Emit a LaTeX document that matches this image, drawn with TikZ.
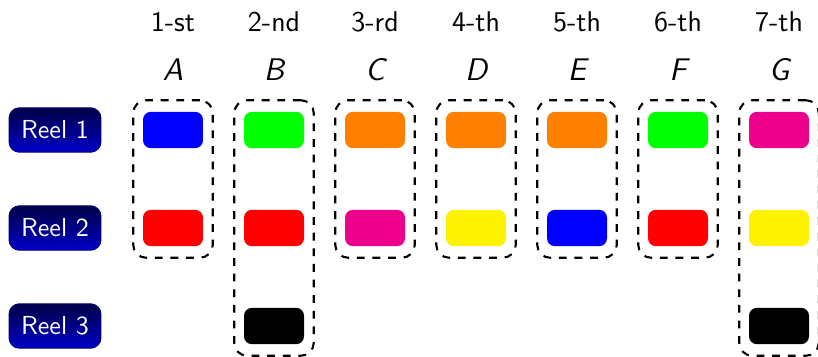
\documentclass[tikz,border=0pt]{standalone}
\usepackage{xcolor}
\usepackage{tikz}
\usetikzlibrary{positioning, fit, calc}

\definecolor{reelTop}{RGB}{0,0,70}
\definecolor{reelBot}{RGB}{0,0,200}
\definecolor{reelEdge}{RGB}{0,0,120}
\definecolor{cBlue}{RGB}{0,0,255}
\definecolor{cRed}{RGB}{255,0,0}
\definecolor{cGreen}{RGB}{0,255,0}
\definecolor{cOrange}{RGB}{255,128,0}
\definecolor{cMagenta}{RGB}{236,0,140}
\definecolor{cYellow}{RGB}{255,242,0}

\tikzset{
  reel/.style={rectangle, rounded corners=4pt, draw=reelEdge, top color=reelTop, bottom color=reelBot,
    text=white, font=\sffamily, minimum width=1.24cm, minimum height=0.6cm},
  chip/.style={rectangle, rounded corners=3pt, minimum width=0.81cm, minimum height=0.49cm},
  group/.style={draw, thick, dashed, rounded corners=5pt, inner xsep=0.125cm, inner ysep=0.15cm},
  head/.style={font=\sffamily\fontsize{11}{13}\selectfont},
  letter/.style={font=\sffamily\itshape\large},
}

\begin{document}
\begin{tikzpicture}[x=0.0135cm, y=-0.0135cm]
    \useasboundingbox (0,0) rectangle (818,356);

    % reels
    \node (r1) [reel] at (55,130) {Reel 1};
    \node (r2) [reel] at (55,228) {Reel 2};
    \node (r3) [reel] at (55,326) {Reel 3};

    % column heads
    \node (h1) [head] at (173,22) {1-st};
    \node (h2) [head] at (274,22) {2-nd};
    \node (h3) [head] at (375,22) {3-rd};
    \node (h4) [head] at (476,22) {4-th};
    \node (h5) [head] at (577,22) {5-th};
    \node (h6) [head] at (678,22) {6-th};
    \node (h7) [head] at (779,22) {7-th};
    \node (lA) [letter] at (173,70) {A};
    \node (lB) [letter] at (274,70) {B};
    \node (lC) [letter] at (375,70) {C};
    \node (lD) [letter] at (476,70) {D};
    \node (lE) [letter] at (577,70) {E};
    \node (lF) [letter] at (678,70) {F};
    \node (lG) [letter] at (779,70) {G};

    % symbols on the reels
    \node (a1) [chip, fill=cBlue]    at (173,130) {};
    \node (a2) [chip, fill=cRed]     at (173,228) {};
    \node (b1) [chip, fill=cGreen]   at (274,130) {};
    \node (b2) [chip, fill=cRed]     at (274,228) {};
    \node (b3) [chip, fill=black]    at (274,326) {};
    \node (c1) [chip, fill=cOrange]  at (375,130) {};
    \node (c2) [chip, fill=cMagenta] at (375,228) {};
    \node (d1) [chip, fill=cOrange]  at (476,130) {};
    \node (d2) [chip, fill=cYellow]  at (476,228) {};
    \node (e1) [chip, fill=cOrange]  at (577,130) {};
    \node (e2) [chip, fill=cBlue]    at (577,228) {};
    \node (f1) [chip, fill=cGreen]   at (678,130) {};
    \node (f2) [chip, fill=cRed]     at (678,228) {};
    \node (g1) [chip, fill=cMagenta] at (779,130) {};
    \node (g2) [chip, fill=cYellow]  at (779,228) {};
    \node (g3) [chip, fill=black]    at (779,326) {};

    % dashed groups
    \node (gA) [group, fit=(a1)(a2)] {};
    \node (gB) [group, fit=(b1)(b3)] {};
    \node (gC) [group, fit=(c1)(c2)] {};
    \node (gD) [group, fit=(d1)(d2)] {};
    \node (gE) [group, fit=(e1)(e2)] {};
    \node (gF) [group, fit=(f1)(f2)] {};
    \node (gG) [group, fit=(g1)(g3)] {};
\end{tikzpicture}
\end{document}
